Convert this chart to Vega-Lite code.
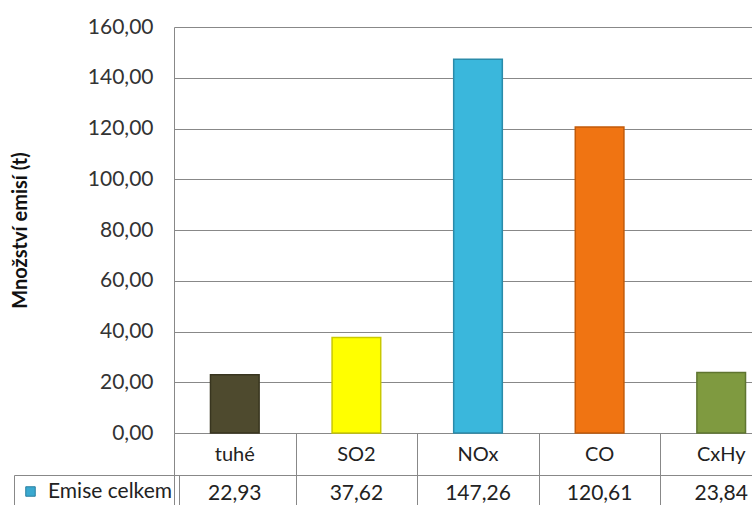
{
  "$schema": "https://vega.github.io/schema/vega-lite/v6.json",
  "width": 578,
  "height": 406,
  "autosize": {"type": "none"},
  "padding": {"left": 174, "top": 27, "right": 0, "bottom": 72},
  "background": "white",
  "config": {
    "locale": {"number": {"decimal": ",", "thousands": " ", "grouping": [3], "currency": ["", " Kč"]}},
    "view": {"stroke": null},
    "font": "Lato"
  },
  "data": {
    "values": [
      {"kategorie": "tuhé", "emise": 22.93, "rada": "Emise celkem"},
      {"kategorie": "SO2", "emise": 37.62, "rada": "Emise celkem"},
      {"kategorie": "NOx", "emise": 147.26, "rada": "Emise celkem"},
      {"kategorie": "CO", "emise": 120.61, "rada": "Emise celkem"},
      {"kategorie": "CxHy", "emise": 23.84, "rada": "Emise celkem"}
    ]
  },
  "resolve": {"axis": {"x": "independent"}},
  "layer": [
    {
      "encoding": {
        "x": {
          "field": "kategorie",
          "type": "nominal",
          "sort": null,
          "scale": {"paddingInner": 0, "paddingOuter": 0, "range": [0, 608]},
          "axis": {
            "title": null,
            "labels": false,
            "grid": false,
            "domain": true,
            "domainColor": "#888888",
            "ticks": true,
            "tickBand": "extent",
            "tickSize": 84,
            "tickColor": "#888888"
          }
        }
      },
      "layer": [
        {
          "mark": {"type": "bar", "strokeWidth": 1.5, "width": {"band": 0.4}},
          "encoding": {
            "y": {
              "field": "emise",
              "type": "quantitative",
              "scale": {"domain": [0, 160], "nice": false},
              "axis": {
                "title": "Množství emisí (t)",
                "values": [0, 20, 40, 60, 80, 100, 120, 140, 160],
                "format": ".2f",
                "grid": true,
                "gridColor": "#888888",
                "domainColor": "#888888",
                "ticks": false,
                "labelPadding": 21,
                "labelFontSize": 21,
                "labelColor": "#333333",
                "titleFontSize": 20,
                "titleFontWeight": "bold",
                "titleColor": "#111111",
                "titleX": -154,
                "titleY": 203,
                "titleAlign": "center",
                "titleBaseline": "middle",
                "titleAngle": -90
              }
            },
            "color": {
              "field": "kategorie",
              "type": "nominal",
              "sort": null,
              "scale": {
                "domain": ["tuhé", "SO2", "NOx", "CO", "CxHy"],
                "range": ["#4E4A2E", "#FFFF00", "#3AB7DC", "#F07412", "#7F9A40"]
              },
              "legend": null
            },
            "stroke": {
              "field": "kategorie",
              "type": "nominal",
              "sort": null,
              "scale": {
                "domain": ["tuhé", "SO2", "NOx", "CO", "CxHy"],
                "range": ["#38351F", "#C9C900", "#2A8BAA", "#C25A08", "#5F7530"]
              },
              "legend": null
            }
          }
        },
        {
          "mark": {"type": "square", "opacity": 0},
          "encoding": {
            "y": {"field": "emise", "type": "quantitative"},
            "fill": {
              "field": "rada",
              "type": "nominal",
              "scale": {"range": ["#3AA9D0"]},
              "legend": {
                "title": null,
                "orient": "none",
                "legendX": -160,
                "legendY": 448,
                "strokeColor": "#888888",
                "padding": 6,
                "symbolType": "square",
                "symbolSize": 90,
                "symbolOpacity": 1,
                "symbolStrokeColor": "#2A7FA0",
                "symbolStrokeWidth": 1,
                "labelOffset": 7,
                "labelFontSize": 21,
                "labelColor": "#222222",
                "labelFont": "Lato"
              }
            }
          }
        },
        {
          "mark": {"type": "text", "dy": 28, "baseline": "alphabetic", "fontSize": 20, "color": "#222222"},
          "encoding": {
            "y": {"datum": 0},
            "text": {"field": "kategorie"}
          }
        }
      ]
    },
    {
      "mark": {"type": "text", "dy": 67, "baseline": "alphabetic", "fontSize": 21, "color": "#222222"},
      "encoding": {
        "x": {
          "field": "kategorie",
          "type": "nominal",
          "sort": null,
          "axis": {
            "title": null,
            "orient": "bottom",
            "offset": 42,
            "labels": false,
            "ticks": false,
            "grid": false,
            "domain": true,
            "domainColor": "#888888"
          }
        },
        "y": {"datum": 0},
        "text": {"field": "emise", "type": "quantitative", "format": ".2f"}
      }
    }
  ]
}
